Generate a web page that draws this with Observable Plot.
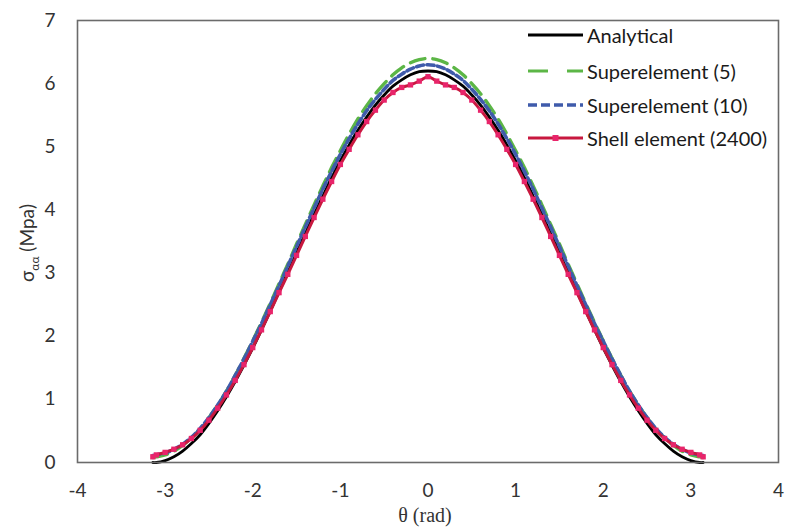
<!DOCTYPE html>
<html>
<head>
<meta charset="utf-8">
<script src="https://cdn.jsdelivr.net/npm/d3@7"></script>
<script src="https://cdn.jsdelivr.net/npm/@observablehq/plot@0.6"></script>
<style>
  html, body { margin: 0; padding: 0; background: #fff; }
  #wrap { position: relative; width: 788px; height: 530px; font-family: Lato, "Open Sans", sans-serif; }
  .leg { position: absolute; left: 528px; height: 22px; display: flex; align-items: center; font-size: 20px; color: #1a1a1a; white-space: nowrap; }
  .leg svg { margin-right: 4px; }
</style>
</head>
<body>
<div id="wrap"></div>
<script>
const theta = [-3.14,-3.1,-3.0,-2.9,-2.8,-2.7,-2.6,-2.5,-2.4,-2.3,-2.2,-2.1,-2.0,-1.9,-1.8,-1.7,-1.6,-1.5,-1.4,-1.3,-1.2,-1.1,-1.0,-0.9,-0.8,-0.7,-0.6,-0.5,-0.4,-0.3,-0.2,-0.1,0,0.1,0.2,0.3,0.4,0.5,0.6,0.7,0.8,0.9,1.0,1.1,1.2,1.3,1.4,1.5,1.6,1.7,1.8,1.9,2.0,2.1,2.2,2.3,2.4,2.5,2.6,2.7,2.8,2.9,3.0,3.1,3.14];

const analytical = [0.00,0.00,0.03,0.09,0.18,0.30,0.44,0.62,0.82,1.04,1.28,1.54,1.81,2.10,2.40,2.70,3.01,3.32,3.63,3.93,4.22,4.51,4.78,5.03,5.26,5.47,5.66,5.82,5.96,6.06,6.14,6.19,6.20,6.19,6.14,6.06,5.96,5.82,5.66,5.47,5.26,5.03,4.78,4.51,4.22,3.93,3.63,3.32,3.01,2.70,2.40,2.10,1.81,1.54,1.28,1.04,0.82,0.62,0.44,0.30,0.18,0.09,0.03,0.00,0.00];

const superelement5 = [0.08,0.09,0.12,0.18,0.27,0.39,0.53,0.71,0.91,1.13,1.38,1.65,1.93,2.22,2.52,2.83,3.14,3.46,3.77,4.08,4.38,4.67,4.94,5.20,5.44,5.65,5.84,6.00,6.14,6.25,6.33,6.38,6.40,6.38,6.33,6.25,6.14,6.00,5.84,5.65,5.44,5.20,4.94,4.67,4.38,4.08,3.77,3.46,3.14,2.83,2.52,2.22,1.93,1.65,1.38,1.13,0.91,0.71,0.53,0.39,0.27,0.18,0.12,0.09,0.08];

const superelement10 = [0.11,0.12,0.15,0.21,0.29,0.40,0.54,0.71,0.91,1.13,1.38,1.64,1.92,2.20,2.50,2.80,3.11,3.42,3.73,4.03,4.33,4.61,4.88,5.13,5.36,5.57,5.75,5.91,6.05,6.15,6.23,6.28,6.30,6.28,6.23,6.15,6.05,5.91,5.75,5.57,5.36,5.13,4.88,4.61,4.33,4.03,3.73,3.42,3.11,2.80,2.50,2.20,1.92,1.64,1.38,1.13,0.91,0.71,0.54,0.40,0.29,0.21,0.15,0.12,0.11];

const shell2400 = [0.09,0.12,0.16,0.21,0.28,0.38,0.51,0.67,0.86,1.07,1.30,1.55,1.82,2.10,2.39,2.69,2.98,3.28,3.58,3.88,4.17,4.45,4.72,4.96,5.19,5.40,5.58,5.74,5.86,5.94,5.98,6.04,6.11,6.04,5.98,5.94,5.86,5.74,5.58,5.40,5.19,4.96,4.72,4.45,4.17,3.88,3.58,3.28,2.98,2.69,2.39,2.10,1.82,1.55,1.30,1.07,0.86,0.67,0.51,0.38,0.28,0.21,0.16,0.12,0.09];

const xTicks = [-4,-3,-2,-1,0,1,2,3,4];
const yTicks = [0,1,2,3,4,5,6,7];
const seriesNames = ["Analytical","Superelement (5)","Superelement (10)","Shell element (2400)"];
const colors = {analytical:"#000000", se5:"#5cb646", se10:"#3f5bab", shellLine:"#c8183f", shellMark:"#e8246a"};

const rows = (vals) => theta.map((t, i) => ({theta: t, v: vals[i]}));
const A = rows(analytical), S5 = rows(superelement5), S10 = rows(superelement10), SH = rows(shell2400);

const chart = Plot.plot({
  width: 788, height: 530,
  marginLeft: 77, marginRight: 10, marginTop: 20, marginBottom: 68,
  x: {domain: [-4, 4]},
  y: {domain: [0, 7]},
  style: {fontFamily: "Lato, 'Open Sans', sans-serif", fontSize: "19px", color: "#333", background: "#fff"},
  marks: [
    Plot.axisX(xTicks, {tickSize: 0, tickPadding: 21, label: null, tickFormat: d => String(d), fontSize: 19, fill: "#333"}),
    Plot.axisY(yTicks, {tickSize: 0, tickPadding: 22, label: null, tickFormat: d => String(d), fontSize: 19, fill: "#333"}),
    Plot.line(A, {x: "theta", y: "v", stroke: colors.analytical, strokeWidth: 2.8, curve: "catmull-rom"}),
    Plot.line(S5, {x: "theta", y: "v", stroke: colors.se5, strokeWidth: 3.4, strokeDasharray: "15,8", curve: "catmull-rom"}),
    Plot.line(S10, {x: "theta", y: "v", stroke: colors.se10, strokeWidth: 3.6, strokeDasharray: "7,3.5", curve: "catmull-rom"}),
    Plot.line(SH, {x: "theta", y: "v", stroke: colors.shellLine, strokeWidth: 3, curve: "catmull-rom"}),
    Plot.dot(SH, {x: "theta", y: "v", symbol: "square", r: 3, fill: colors.shellMark, stroke: "none"}),
    Plot.frame({stroke: "#6b6b6b", strokeWidth: 1.6})
  ]
});

const wrap = document.getElementById("wrap");
wrap.appendChild(chart);

// axis titles
const svg = d3.select(chart);
const yl = svg.append("text")
  .attr("transform", "translate(34,243) rotate(-90)")
  .attr("text-anchor", "middle")
  .attr("font-family", "Lato, 'Open Sans', sans-serif")
  .attr("font-size", 19)
  .attr("fill", "#333");
yl.append("tspan").text("σ");
yl.append("tspan").attr("font-size", 12).attr("dy", 5).text("αα");
yl.append("tspan").attr("dy", -5).text(" (Mpa)");

svg.append("text")
  .attr("x", 425).attr("y", 522)
  .attr("text-anchor", "middle")
  .attr("font-family", "'Liberation Serif', 'DejaVu Serif', serif")
  .attr("font-size", 20)
  .attr("fill", "#333")
  .text("θ (rad)");

// legend
const legendTops = [24, 60, 94, 127];
const samples = [
  `<line x1="0" y1="6" x2="55" y2="6" stroke="${colors.analytical}" stroke-width="3"/>`,
  `<line x1="0" y1="6" x2="55" y2="6" stroke="${colors.se5}" stroke-width="3.2" stroke-dasharray="20,19"/>`,
  `<line x1="0" y1="6" x2="55" y2="6" stroke="${colors.se10}" stroke-width="3.4" stroke-dasharray="9,4"/>`,
  `<line x1="0" y1="6" x2="55" y2="6" stroke="${colors.shellLine}" stroke-width="3"/><rect x="24.5" y="3" width="6" height="6" fill="${colors.shellMark}"/>`
];
seriesNames.forEach((name, i) => {
  const d = document.createElement("div");
  d.className = "leg";
  d.style.top = legendTops[i] + "px";
  d.innerHTML = `<svg width="55" height="12">${samples[i]}</svg><span>${name}</span>`;
  wrap.appendChild(d);
});
</script>
</body>
</html>
